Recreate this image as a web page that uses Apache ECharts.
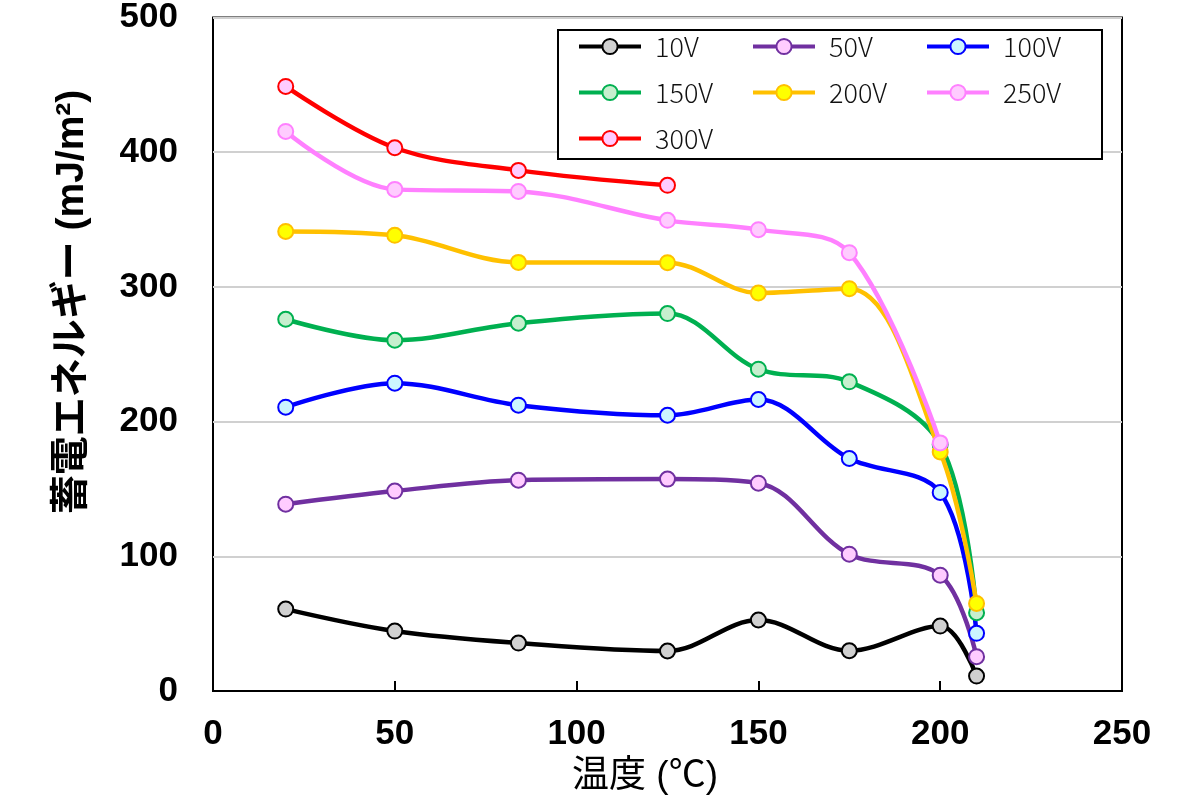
<!DOCTYPE html>
<html>
<head>
<meta charset="utf-8">
<script src="https://cdn.jsdelivr.net/npm/echarts@6/dist/echarts.min.js"></script>
<style>html,body{margin:0;padding:0;background:#fff}#c{width:1200px;height:800px}</style>
</head>
<body>
<div id="c"></div>
<script>
const temps = [20, 50, 84, 125, 150, 175, 200, 210];
const seriesNames = ['10V', '50V', '100V', '150V', '200V', '250V', '300V'];
const v10  = [60.8, 44.5, 35.6, 29.7, 52.7, 29.9, 48.2, 11.1];
const v50  = [138.7, 148.4, 156.5, 157.3, 154.3, 101.6, 86.0, 25.5];
const v100 = [210.7, 228.5, 212.2, 204.7, 216.4, 172.6, 147.4, 42.8];
const v150 = [276.0, 260.4, 273.0, 280.2, 238.9, 229.5, 183.0, 58.1];
const v200 = [341.2, 338.3, 318.2, 318.0, 295.5, 298.7, 177.5, 65.0];
const v250 = [415.4, 372.4, 370.9, 349.4, 342.5, 325.4, 184.2];
const v300 = [448.8, 403.3, 386.5, 375.4];
const xTicks = [0, 50, 100, 150, 200, 250];
const yTicks = [0, 100, 200, 300, 400, 500];

const lineColors = ['#000000', '#7030a0', '#0000ff', '#00b050', '#ffc000', '#ff80ff', '#ff0000'];
const fillColors = ['#d0d0d0', '#ffccff', '#ccf5ff', '#c6efce', '#ffff00', '#ffccff', '#ffccff'];
const allValues = [v10, v50, v100, v150, v200, v250, v300];

const numFont = '"Liberation Sans", Arial, sans-serif';
const jpFont = '"Liberation Sans", "Noto Sans CJK JP", sans-serif';

const series = allValues.map((vals, i) => ({
  name: seriesNames[i],
  type: 'line',
  data: vals.map((v, k) => [temps[k], v]),
  smooth: 0.35,
  symbol: 'circle',
  symbolSize: 15,
  showSymbol: true,
  lineStyle: { color: lineColors[i], width: 4.5 },
  itemStyle: { color: fillColors[i], borderColor: lineColors[i], borderWidth: 2 },
  z: 2
}));

const chart = echarts.init(document.getElementById('c'));
chart.setOption({
  animation: false,
  backgroundColor: '#fff',
  grid: {
    left: 213, right: 78, top: 17, bottom: 109,
    show: true, borderColor: '#000', borderWidth: 2, backgroundColor: 'transparent'
  },
  xAxis: {
    type: 'value', min: xTicks[0], max: xTicks[xTicks.length - 1], interval: 50,
    axisLine: { show: true, lineStyle: { color: '#000', width: 2 } },
    axisTick: { show: true, inside: true, length: 10, lineStyle: { color: '#000', width: 2 } },
    splitLine: { show: false },
    axisLabel: { color: '#000', fontSize: 35, fontWeight: 'bold', fontFamily: numFont, margin: 26 }
  },
  yAxis: {
    type: 'value', min: yTicks[0], max: yTicks[yTicks.length - 1], interval: 100,
    axisLine: { show: false },
    axisTick: { show: false },
    splitLine: { show: true, lineStyle: { color: '#d0d0d0', width: 2 } },
    axisLabel: { color: '#000', fontSize: 35, fontWeight: 'bold', fontFamily: numFont, margin: 35 }
  },
  legend: {
    data: seriesNames,
    left: 577, top: 33, width: 540,
    orient: 'horizontal',
    padding: 0,
    itemWidth: 62, itemHeight: 19, itemGap: 19,
    lineStyle: { width: 4 },
    itemStyle: { borderWidth: 2 },
    textStyle: { color: '#111', fontSize: 27, fontFamily: '"Noto Sans CJK JP", "Noto Sans", sans-serif', fontWeight: 300, width: 77, lineHeight: 26, padding: [0, 0, 0, 9] },
    z: 10
  },
  graphic: [
    { type: 'rect', z: 5, shape: { x: 558, y: 30, width: 544, height: 129 },
      style: { fill: '#fff', stroke: '#000', lineWidth: 2 } },
    { type: 'text', z: 5, x: 72, y: 302, rotation: Math.PI / 2,
      style: { text: '蓄電エネルギー (mJ/m²)', x: 0, y: 0, align: 'center', verticalAlign: 'middle',
        font: 'bold 39px ' + jpFont, fill: '#000' } },
    { type: 'text', z: 5, x: 645, y: 777,
      style: { text: '温度 (℃)', x: 0, y: 0, align: 'center', verticalAlign: 'middle',
        font: '37px ' + jpFont, fill: '#000' } }
  ],
  series: series
});
</script>
</body>
</html>
